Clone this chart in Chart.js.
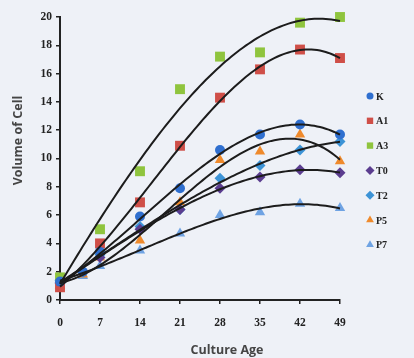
<!DOCTYPE html>
<html>
<head>
<meta charset="utf-8">
<script src="https://cdn.jsdelivr.net/npm/chart.js@4.4.1/dist/chart.umd.min.js"></script>
<style>
  html, body { margin: 0; padding: 0; background: #eef1f7; }
  canvas { display: block; }
</style>
</head>
<body>
<canvas id="cellChart" width="414" height="358"></canvas>
<script>
// culture age (days) and cell volume per treatment
var days = [0, 4, 7, 14, 21, 28, 35, 42, 49];

var kVol  = [1.3, 2.0,  3.4, 5.9, 7.9, 10.6, 11.7, 12.4, 11.7];
var a1Vol = [0.9, null, 4.0, 6.9, 10.9, 14.3, 16.3, 17.7, 17.1];
var a3Vol = [1.6, null, 5.0, 9.1, 14.9, 17.2, 17.5, 19.6, 20.0];
var t0Vol = [1.2, null, 3.0, 5.0, 6.4, 7.9, 8.7, 9.2, 9.0];
var t2Vol = [1.4, 2.0,  3.2, 5.2, 6.4, 8.6, 9.5, 10.6, 11.2];
var p5Vol = [1.0, 1.8,  3.0, 4.2, 6.9, 9.9, 10.5, 11.7, 9.8];
var p7Vol = [1.5, 1.7,  2.4, 3.5, 4.7, 6.0, 6.2, 6.8, 6.5];

var seriesNames = ["K", "A1", "A3", "T0", "T2", "P5", "P7"];
var xTicks = [0, 7, 14, 21, 28, 35, 42, 49];
var yTicks = [0, 2, 4, 6, 8, 10, 12, 14, 16, 18, 20];
var xTitle = "Culture Age";
var yTitle = "Volume of Cell";

var allSeries = [kVol, a1Vol, a3Vol, t0Vol, t2Vol, p5Vol, p7Vol];
var colors = ["#2f6fcf", "#cf4f48", "#8fc43e", "#5b3d8f", "#3c93d6", "#ef8a2c", "#6fa3e3"];
var shapes = ["circle", "rect", "rect", "rectRot", "rectRot", "triangle", "triangle"];
var sizes = [5, 7, 7, 5.5, 5.5, 6, 6];

function toPoints(vals) {
    var pts = [];
    vals.forEach(function (v, i) {
        if (v !== null) pts.push({ x: days[i], y: v });
    });
    return pts;
}

// least squares polynomial (order 3), like a spreadsheet trendline
function polyFit(pts, order) {
    var n = order + 1;
    var A = [], B = [];
    for (var r = 0; r < n; r++) {
        A.push([]);
        for (var c = 0; c < n; c++) {
            var s = 0;
            pts.forEach(function (p) { s += Math.pow(p.x, r + c); });
            A[r].push(s);
        }
        var sb = 0;
        pts.forEach(function (p) { sb += p.y * Math.pow(p.x, r); });
        B.push(sb);
    }
    // gaussian elimination
    for (var i = 0; i < n; i++) {
        var piv = i;
        for (var k = i + 1; k < n; k++) if (Math.abs(A[k][i]) > Math.abs(A[piv][i])) piv = k;
        var tmp = A[i]; A[i] = A[piv]; A[piv] = tmp;
        var tb = B[i]; B[i] = B[piv]; B[piv] = tb;
        for (var k2 = i + 1; k2 < n; k2++) {
            var f = A[k2][i] / A[i][i];
            for (var j = i; j < n; j++) A[k2][j] -= f * A[i][j];
            B[k2] -= f * B[i];
        }
    }
    var coef = new Array(n);
    for (var i2 = n - 1; i2 >= 0; i2--) {
        var sum = B[i2];
        for (var j2 = i2 + 1; j2 < n; j2++) sum -= A[i2][j2] * coef[j2];
        coef[i2] = sum / A[i2][i2];
    }
    return coef;
}

var trendLines = {
    id: "trendLines",
    afterDatasetsDraw: function (chart) {
        var xs = chart.scales.x, ys = chart.scales.y, ctx = chart.ctx;
        ctx.save();
        ctx.strokeStyle = "#1c1c1c";
        ctx.lineWidth = 2;
        chart.data.datasets.forEach(function (ds) {
            var c = polyFit(ds.data, 3);
            ctx.beginPath();
            for (var t = xs.min; t <= xs.max + 0.001; t += 0.5) {
                var v = 0;
                for (var k = 0; k < c.length; k++) v += c[k] * Math.pow(t, k);
                var px = xs.getPixelForValue(t), py = ys.getPixelForValue(v);
                if (t === xs.min) ctx.moveTo(px, py); else ctx.lineTo(px, py);
            }
            ctx.stroke();
        });
        ctx.restore();
    }
};

// axis titles sit off-centre in the original, so draw them here
var axisTitles = {
    id: "axisTitles",
    afterDraw: function (chart) {
        var ctx = chart.ctx, area = chart.chartArea;
        ctx.save();
        ctx.fillStyle = "#454545";
        ctx.font = "bold 12.5px 'Open Sans'";
        ctx.textAlign = "center";
        ctx.textBaseline = "middle";
        ctx.fillText(xTitle, (area.left + area.right) / 2 + 27, 350);
        ctx.translate(18, (area.top + area.bottom) / 2 - 18);
        ctx.rotate(-Math.PI / 2);
        ctx.fillText(yTitle, 0, 0);
        ctx.restore();
    }
};

// legend sits to the right, partly cut by the picture edge
var sideLegend = {
    id: "sideLegend",
    afterDraw: function (chart) {
        var ctx = chart.ctx;
        ctx.save();
        ctx.font = "bold 10px 'Liberation Serif'";
        ctx.textBaseline = "middle";
        chart.data.datasets.forEach(function (ds, i) {
            var y = 96 + i * 24.8;
            ctx.fillStyle = ds.backgroundColor;
            ctx.strokeStyle = ds.borderColor;
            Chart.helpers.drawPoint(ctx, { pointStyle: ds.pointStyle, radius: ds.pointStyle === "circle" ? 3.5 : 4.5, borderWidth: 0 }, 370, y);
            ctx.fillStyle = "#222";
            ctx.fillText(ds.label, 376, y + 1);
        });
        ctx.restore();
    }
};

var datasets = allSeries.map(function (vals, i) {
    return {
        label: seriesNames[i],
        data: toPoints(vals),
        backgroundColor: colors[i],
        borderColor: colors[i],
        borderWidth: 0,
        pointStyle: shapes[i],
        pointRadius: sizes[i],
        pointHoverRadius: sizes[i],
        clip: false
    };
});

var tickFont = { family: "'Liberation Serif'", size: 11.5, weight: "bold" };

new Chart(document.getElementById("cellChart"), {
    type: "scatter",
    data: { datasets: datasets },
    options: {
        responsive: false,
        animation: false,
        layout: { autoPadding: false, padding: { top: 17, right: 74, bottom: 0, left: 0 } },
        plugins: { legend: { display: false }, tooltip: { enabled: false } },
        scales: {
            x: {
                type: "linear",
                min: 0,
                max: 49,
                afterBuildTicks: function (axis) { axis.ticks = xTicks.map(function (v) { return { value: v }; }); },
                afterFit: function (axis) { axis.height = 58; },
                border: { color: "#222", width: 2 },
                grid: { display: true, drawOnChartArea: false, tickLength: 4, color: "#222", lineWidth: 1.5 },
                ticks: { color: "#222", font: tickFont, padding: 12, maxRotation: 0 }
            },
            y: {
                min: 0,
                max: 20,
                afterBuildTicks: function (axis) { axis.ticks = yTicks.map(function (v) { return { value: v }; }); },
                afterFit: function (axis) { axis.width = 60; },
                border: { color: "#222", width: 2 },
                grid: { display: true, drawOnChartArea: false, tickLength: 4, color: "#222", lineWidth: 1.5 },
                ticks: { color: "#222", font: tickFont, padding: 4 }
            }
        }
    },
    plugins: [trendLines, axisTitles, sideLegend]
});
</script>
</body>
</html>
